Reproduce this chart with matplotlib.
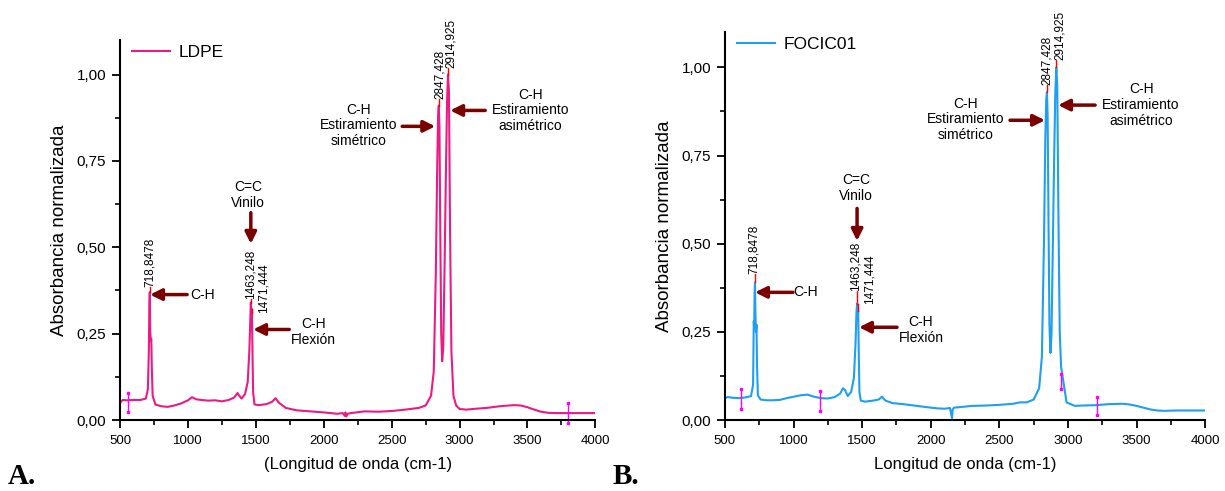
import matplotlib
matplotlib.use('Agg')
import matplotlib.pyplot as plt
import matplotlib.ticker as ticker
import numpy as np

plt.rcParams['font.family'] = ['Liberation Sans', 'DejaVu Sans']

### LDPE spectrum
ldpe_x = [500, 520, 550, 600, 650, 690, 705, 712, 716, 719, 722, 726, 730, 734, 740, 760, 800, 850, 900, 950,
          1000, 1030, 1060, 1100, 1150, 1200, 1250, 1300, 1340, 1365, 1375, 1395, 1420, 1440, 1452, 1460, 1463,
          1467, 1471, 1475, 1480, 1490, 1520, 1580, 1620, 1645, 1670, 1720, 1800, 1900, 2000, 2050, 2100, 2140,
          2155, 2160, 2165, 2175, 2200, 2300, 2400, 2500, 2600, 2700, 2750, 2790, 2810, 2825, 2835, 2842, 2847,
          2852, 2858, 2865, 2872, 2880, 2890, 2900, 2908, 2915, 2922, 2930, 2940, 2955, 2975, 3000, 3050, 3100,
          3200, 3300, 3400, 3450, 3500, 3550, 3600, 3650, 3700, 3800, 3900, 4000]
ldpe_y = [0.050, 0.058, 0.057, 0.058, 0.058, 0.062, 0.09, 0.20, 0.33, 0.37, 0.26, 0.23, 0.235, 0.15, 0.07, 0.045,
          0.040, 0.038, 0.042, 0.048, 0.057, 0.066, 0.060, 0.058, 0.056, 0.057, 0.054, 0.058, 0.065, 0.078, 0.072,
          0.062, 0.075, 0.11, 0.20, 0.30, 0.34, 0.31, 0.32, 0.20, 0.08, 0.045, 0.043, 0.046, 0.053, 0.063, 0.050,
          0.035, 0.028, 0.025, 0.022, 0.020, 0.018, 0.020, 0.012, 0.022, 0.010, 0.018, 0.020, 0.025, 0.024, 0.026,
          0.030, 0.035, 0.042, 0.070, 0.14, 0.42, 0.72, 0.88, 0.91, 0.85, 0.55, 0.25, 0.17, 0.21, 0.45, 0.73, 0.92,
          1.00, 0.95, 0.55, 0.20, 0.07, 0.042, 0.032, 0.030, 0.032, 0.035, 0.040, 0.043, 0.042, 0.037, 0.030, 0.024,
          0.021, 0.020, 0.020, 0.020, 0.020]

### FOCIC01 spectrum
foc_x = [500, 520, 560, 600, 650, 690, 705, 710, 713, 716, 719, 722, 726, 730, 734, 740, 760, 800, 850, 900, 950,
         1000, 1050, 1100, 1150, 1200, 1250, 1300, 1340, 1360, 1375, 1395, 1420, 1440, 1452, 1458, 1463, 1467,
         1471, 1475, 1480, 1490, 1520, 1580, 1620, 1645, 1670, 1720, 1800, 1900, 2000, 2050, 2100, 2140, 2155,
         2160, 2170, 2200, 2300, 2400, 2500, 2600, 2650, 2700, 2750, 2790, 2810, 2825, 2835, 2842, 2847, 2852,
         2858, 2865, 2872, 2880, 2890, 2900, 2908, 2915, 2922, 2930, 2940, 2950, 2970, 2990, 3050, 3100, 3200,
         3300, 3400, 3450, 3500, 3550, 3600, 3650, 3700, 3800, 3900, 4000]
foc_y = [0.062, 0.065, 0.063, 0.062, 0.064, 0.068, 0.10, 0.28, 0.26, 0.36, 0.39, 0.30, 0.25, 0.27, 0.15, 0.07,
         0.058, 0.056, 0.056, 0.057, 0.062, 0.066, 0.070, 0.072, 0.066, 0.062, 0.061, 0.065, 0.075, 0.090, 0.085,
         0.068, 0.080, 0.12, 0.22, 0.30, 0.33, 0.29, 0.31, 0.20, 0.08, 0.055, 0.052, 0.055, 0.058, 0.066, 0.055,
         0.048, 0.045, 0.040, 0.035, 0.033, 0.032, 0.034, 0.005, 0.030, 0.035, 0.036, 0.040, 0.041, 0.043, 0.046,
         0.050, 0.050, 0.058, 0.090, 0.18, 0.50, 0.80, 0.91, 0.93, 0.86, 0.58, 0.27, 0.19, 0.24, 0.50, 0.76, 0.93,
         1.00, 0.95, 0.60, 0.25, 0.15, 0.10, 0.05, 0.040, 0.041, 0.042, 0.045, 0.046, 0.044, 0.040, 0.035, 0.030,
         0.027, 0.026, 0.027, 0.027, 0.027]

### peak labels: (x of peak, peak height, label, x of text, y of text base)
ldpe_peaks = [(718, 0.37, '718,8478', 718, 0.385), (1463, 0.34, '1463,248', 1458, 0.35),
              (1471, 0.32, '1471,444', 1554, 0.31), (2847, 0.91, '2847,428', 2858, 0.93),
              (2915, 1.00, '2914,925', 2939, 1.02)]
foc_peaks = [(718, 0.39, '718,8478', 711, 0.415), (1463, 0.33, '1463,248', 1455, 0.367),
             (1471, 0.31, '1471,444', 1557, 0.33), (2847, 0.93, '2847,428', 2848, 0.95),
             (2915, 1.00, '2914,925', 2943, 1.02)]

### data reader markers (x, y low, y high)
ldpe_marks = [(555, 0.023, 0.078), (3800, -0.01, 0.05)]
foc_marks = [(617, 0.03, 0.088), (1193, 0.025, 0.083), (2950, 0.088, 0.13), (3212, 0.014, 0.065)]

### annotations: (text, text x, text y, arrow tail, arrow head)
ldpe_notes = [('C-H', 1104, 0.363, (994, 0.363), (721, 0.363)),
              ('C=C\nVinilo', 1443, 0.652, (1463, 0.60), (1463, 0.51)),
              ('C-H\nFlexión', 1922, 0.255, (1746, 0.262), (1480, 0.262)),
              ('C-H\nEstiramiento\nsimétrico', 2254, 0.853, (2578, 0.85), (2821, 0.85)),
              ('C-H\nEstiramiento\nasimétrico', 3521, 0.896, (3189, 0.896), (2931, 0.896))]
foc_notes = [('C-H', 1091, 0.362, (996, 0.362), (719, 0.362)),
             ('C=C\nVinilo', 1455, 0.658, (1463, 0.60), (1463, 0.508)),
             ('C-H\nFlexión', 1929, 0.256, (1754, 0.263), (1477, 0.263)),
             ('C-H\nEstiramiento\nsimétrico', 2257, 0.853, (2578, 0.85), (2833, 0.85)),
             ('C-H\nEstiramiento\nasimétrico', 3533, 0.893, (3198, 0.893), (2928, 0.893))]


def draw_panel(ax, x, y, color, name, peaks, marks, notes, xlabel):
    ax.plot(x, y, color=color, lw=1.5, label=name)

    for px, py, lab, tx, ty in peaks:
        ax.plot([px, px], [py, ty], color='red', lw=1)
        ax.text(tx, ty, lab, rotation=90, ha='center', va='bottom', fontsize=8.5, clip_on=False)

    for mx, y0, y1 in marks:
        ax.plot([mx, mx], [y0, y1], color='magenta', lw=1, clip_on=False)
        ax.plot([mx, mx], [y0, y1], ls='none', color='magenta', marker='s', ms=2, clip_on=False)

    for txt, tx, ty, tail, head in notes:
        ax.text(tx, ty, txt, ha='center', va='center', fontsize=10, linespacing=1.15)
        ax.annotate('', xy=head, xytext=tail,
                    arrowprops=dict(arrowstyle='-|>', color='#7B0000', lw=2.5, mutation_scale=17, shrinkA=0, shrinkB=0))

    ax.set_xlim(500, 4000)
    ax.set_ylim(0, 1.1)
    ax.spines['top'].set_visible(False)
    ax.spines['right'].set_visible(False)
    ax.spines['left'].set_linewidth(1.5)
    ax.spines['bottom'].set_linewidth(1.5)
    ax.xaxis.set_major_locator(ticker.MultipleLocator(500))
    ax.xaxis.set_minor_locator(ticker.MultipleLocator(250))
    ax.yaxis.set_major_locator(ticker.MultipleLocator(0.25))
    ax.yaxis.set_minor_locator(ticker.MultipleLocator(0.125))
    ax.yaxis.set_major_formatter(ticker.FuncFormatter(lambda v, p: f'{v:.2f}'.replace('.', ',')))
    ax.tick_params(which='major', length=6, width=1.3, direction='out')
    ax.tick_params(which='minor', length=3.5, width=1.2, direction='out')
    ax.tick_params(axis='x', labelsize=9.5, pad=5)
    ax.tick_params(axis='y', labelsize=11, pad=4)
    ax.set_xlabel(xlabel, fontsize=12, labelpad=7)
    ax.set_ylabel('Absorbancia normalizada', fontsize=13.5, labelpad=6)
    ax.legend(loc='upper left', frameon=False, fontsize=12.5, handlelength=2.2, handletextpad=0.5,
              borderaxespad=0.3, bbox_to_anchor=(0.0, 1.02))


fig = plt.figure(figsize=(12.25, 4.91), dpi=100)
ax1 = fig.add_axes([0.098, 0.1446, 0.388, 0.774])
ax2 = fig.add_axes([0.5918, 0.1446, 0.392, 0.790])

draw_panel(ax1, ldpe_x, ldpe_y, '#EC1A83', 'LDPE', ldpe_peaks, ldpe_marks, ldpe_notes,
           '(Longitud de onda (cm-1)')
draw_panel(ax2, foc_x, foc_y, '#1E9FF2', 'FOCIC01', foc_peaks, foc_marks, foc_notes,
           'Longitud de onda (cm-1)')

fig.text(0.006, 0.014, 'A.', fontsize=21, fontweight='bold', family='Liberation Serif')
fig.text(0.500, 0.014, 'B.', fontsize=21, fontweight='bold', family='Liberation Serif')

fig.savefig('out.png', dpi=100)
